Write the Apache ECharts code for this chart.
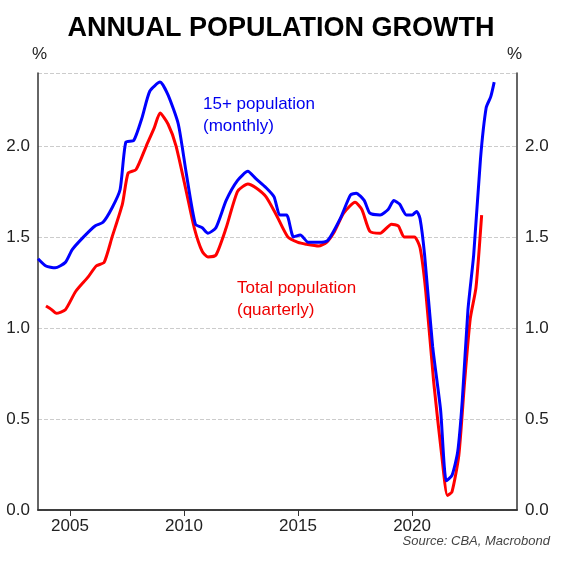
<!DOCTYPE html>
<html>
<head>
<meta charset="utf-8">
<script src="https://cdn.jsdelivr.net/npm/echarts@6/dist/echarts.min.js"></script>
<style>html,body{margin:0;padding:0;background:#fff}#chart{width:562px;height:567px}</style>
</head>
<body>
<div id="chart"></div>
<script>
// 15+ population, monthly: [year, %]
const adultPop = [
    [2003.6, 1.38], [2003.95, 1.34], [2004.35, 1.33], [2004.8, 1.36], [2005.1, 1.43], [2005.6, 1.50],
    [2006.1, 1.56], [2006.45, 1.58], [2006.85, 1.66], [2007.2, 1.76], [2007.45, 2.02], [2007.8, 2.03],
    [2008.15, 2.15], [2008.5, 2.30], [2008.95, 2.35], [2009.3, 2.28], [2009.75, 2.12], [2010.1, 1.85],
    [2010.5, 1.57], [2010.8, 1.55], [2011.05, 1.52], [2011.4, 1.55], [2011.85, 1.70], [2012.35, 1.81],
    [2012.8, 1.86], [2013.15, 1.82], [2013.6, 1.77], [2013.95, 1.72], [2014.2, 1.62], [2014.5, 1.62],
    [2014.8, 1.50], [2015.1, 1.51], [2015.45, 1.47], [2015.9, 1.47], [2016.3, 1.48], [2016.85, 1.60],
    [2017.3, 1.73], [2017.55, 1.74], [2017.9, 1.70], [2018.15, 1.63], [2018.6, 1.62], [2018.95, 1.65],
    [2019.2, 1.70], [2019.45, 1.68], [2019.75, 1.62], [2020.0, 1.62], [2020.2, 1.64], [2020.35, 1.60],
    [2020.55, 1.40], [2020.9, 0.90], [2021.25, 0.55], [2021.5, 0.16], [2021.75, 0.19], [2022.0, 0.32],
    [2022.2, 0.60], [2022.45, 1.10], [2022.7, 1.40], [2023.0, 1.93], [2023.25, 2.21], [2023.45, 2.27],
    [2023.6, 2.35]
];
// Total population, quarterly: [year, %]
const totalPop = [
    [2003.95, 1.12], [2004.2, 1.10], [2004.4, 1.08], [2004.8, 1.10], [2005.25, 1.20], [2005.8, 1.28],
    [2006.15, 1.34], [2006.5, 1.36], [2006.85, 1.50], [2007.3, 1.68], [2007.55, 1.85], [2007.9, 1.87],
    [2008.35, 2.00], [2008.7, 2.10], [2008.95, 2.18], [2009.3, 2.12], [2009.65, 2.00], [2010.1, 1.75],
    [2010.45, 1.55], [2010.8, 1.42], [2011.05, 1.39], [2011.4, 1.40], [2011.85, 1.55], [2012.35, 1.75],
    [2012.8, 1.79], [2013.15, 1.77], [2013.6, 1.72], [2014.05, 1.62], [2014.55, 1.50], [2015.0, 1.47],
    [2015.35, 1.46], [2015.9, 1.45], [2016.25, 1.47], [2016.6, 1.53], [2017.0, 1.63], [2017.5, 1.69],
    [2017.8, 1.65], [2018.15, 1.53], [2018.6, 1.52], [2019.1, 1.57], [2019.4, 1.56], [2019.65, 1.50],
    [2020.1, 1.50], [2020.35, 1.44], [2020.6, 1.20], [2020.95, 0.70], [2021.3, 0.30], [2021.55, 0.08],
    [2021.75, 0.10], [2022.05, 0.30], [2022.3, 0.70], [2022.55, 1.05], [2022.8, 1.22], [2023.05, 1.62]
];
const xTicks = [2005, 2010, 2015, 2020];
const yTicks = ['0.0', '0.5', '1.0', '1.5', '2.0'];

const chart = echarts.init(document.getElementById('chart'));
const font = 'Liberation Sans, Arial, sans-serif';
const yAxisBase = {
    type: 'value', min: 0, max: 2.4, interval: 0.5,
    axisLine: {show: true, lineStyle: {color: '#333', width: 1.5}},
    axisTick: {show: false},
    axisLabel: {fontSize: 17, color: '#222', fontFamily: font,
        formatter: v => yTicks[Math.round(v / 0.5)] || ''}
};
chart.setOption({
    animation: false,
    title: {
        text: 'ANNUAL POPULATION GROWTH', left: 'center', top: 10,
        textStyle: {fontSize: 27, fontWeight: 'bold', color: '#000', fontFamily: font}
    },
    grid: {left: 38, right: 45, top: 73, bottom: 57},
    xAxis: [{
        type: 'value', min: 2003.6, max: 2024.6,
        axisLine: {lineStyle: {color: '#333', width: 1.5}},
        axisTick: {show: true, length: 6, customValues: xTicks, lineStyle: {color: '#333'}},
        axisLabel: {fontSize: 17, color: '#222', fontFamily: font,
            customValues: xTicks, formatter: v => String(v)},
        splitLine: {show: false}
    }, {
        type: 'value', position: 'top', min: 2003.6, max: 2024.6,
        axisLine: {show: true, lineStyle: {color: '#333', width: 1.5}},
        axisTick: {show: false}, axisLabel: {show: false}, splitLine: {show: false}
    }],
    yAxis: [
        Object.assign({}, yAxisBase, {position: 'left',
            splitLine: {show: true, lineStyle: {color: '#ccc', type: 'dashed'}}}),
        Object.assign({}, yAxisBase, {position: 'right', splitLine: {show: false}})
    ],
    graphic: [
        {type: 'text', left: 32, top: 46, style: {text: '%', fontSize: 17, fill: '#222', fontFamily: font}},
        {type: 'text', left: 507, top: 46, style: {text: '%', fontSize: 17, fill: '#222', fontFamily: font}},
        {type: 'text', left: 203, top: 93, style: {text: '15+ population\n(monthly)', fontSize: 17, lineHeight: 22, fill: '#0000ee', fontFamily: font}},
        {type: 'text', left: 237, top: 277, style: {text: 'Total population\n(quarterly)', fontSize: 17, lineHeight: 22, fill: '#ee0000', fontFamily: font}},
        {type: 'text', right: 12, top: 535, style: {text: 'Source: CBA, Macrobond', fontSize: 13, fontStyle: 'italic', fill: '#444', fontFamily: font}}
    ],
    series: [
        {type: 'line', data: totalPop, showSymbol: false, smooth: 0.2, yAxisIndex: 0,
            lineStyle: {color: '#ff0000', width: 3}},
        {type: 'line', data: adultPop, showSymbol: false, smooth: 0.2, yAxisIndex: 0,
            lineStyle: {color: '#0000ff', width: 3}}
    ]
});
</script>
</body>
</html>
